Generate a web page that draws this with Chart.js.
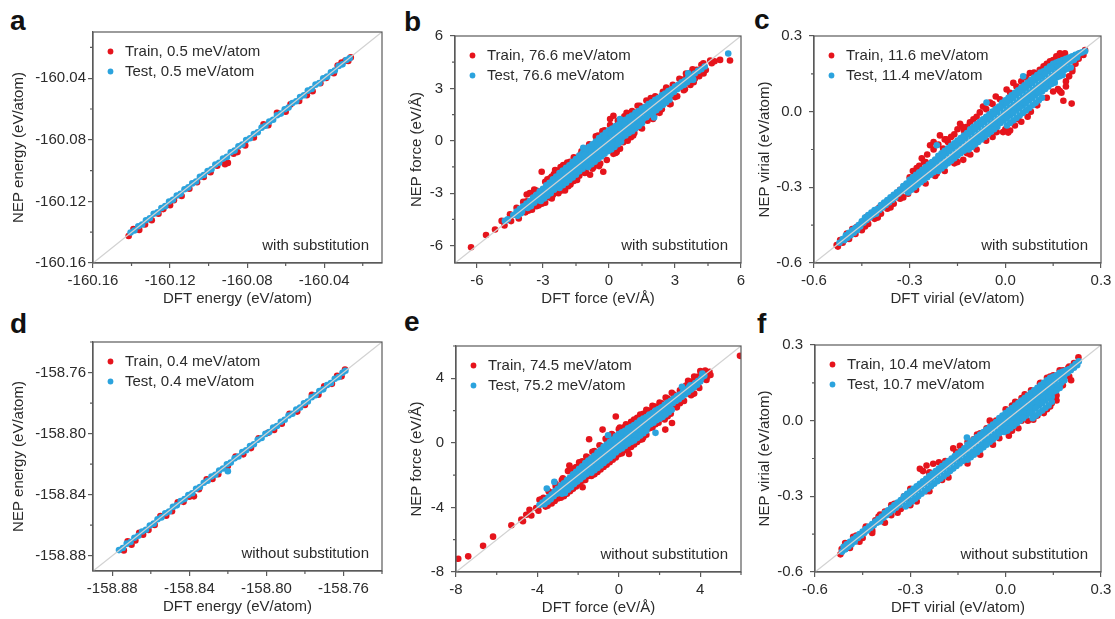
<!DOCTYPE html>
<html>
<head>
<meta charset="utf-8">
<script src="https://cdn.jsdelivr.net/npm/chart.js@4.4.1/dist/chart.umd.min.js"></script>
<style>
  body { margin: 0; background: #fff; width: 1115px; height: 619px; position: relative; overflow: hidden; font-family: "Liberation Sans", Arial, sans-serif; }
  .panel { position: absolute; }
  .tag { position: absolute; font-weight: bold; font-size: 28px; line-height: 28px; color: #111; }
</style>
</head>
<body>
<div class="tag" style="left:10px;top:7px">a</div>
<div class="tag" style="left:404px;top:8px">b</div>
<div class="tag" style="left:754px;top:6px">c</div>
<div class="tag" style="left:10px;top:310px">d</div>
<div class="tag" style="left:404px;top:308px">e</div>
<div class="tag" style="left:757px;top:310px">f</div>

<div class="panel" id="pa"><canvas id="ca"></canvas></div>
<div class="panel" id="pb"><canvas id="cb"></canvas></div>
<div class="panel" id="pc"><canvas id="cc"></canvas></div>
<div class="panel" id="pd"><canvas id="cd"></canvas></div>
<div class="panel" id="pe"><canvas id="ce"></canvas></div>
<div class="panel" id="pf"><canvas id="cf"></canvas></div>

<script>
// ---- tick labels ----
const ticksA = ['-160.16', '-160.12', '-160.08', '-160.04'];
const ticksB = ['-6', '-3', '0', '3', '6'];
const ticksC = ['-0.6', '-0.3', '0.0', '0.3'];
const ticksD = ['-158.88', '-158.84', '-158.80', '-158.76'];
const ticksE = ['-8', '-4', '0', '4'];
const ticksF = ['-0.6', '-0.3', '0.0', '0.3'];

// ---- legend labels ----
const trainLabels = ['Train, 0.5 meV/atom', 'Train, 76.6 meV/atom', 'Train, 11.6 meV/atom',
                     'Train, 0.4 meV/atom', 'Train, 74.5 meV/atom', 'Train, 10.4 meV/atom'];
const testLabels = ['Test, 0.5 meV/atom', 'Test, 76.6 meV/atom', 'Test, 11.4 meV/atom',
                    'Test, 0.4 meV/atom', 'Test, 75.2 meV/atom', 'Test, 10.7 meV/atom'];

// ---- a: energy, with substitution ----
const trainA = [
  [-160.1415,-160.1425],[-160.1390,-160.1380],[-160.1360,-160.1385],[-160.1330,-160.1350],[-160.1295,-160.1322],
  [-160.1260,-160.1280],[-160.1235,-160.1250],[-160.1200,-160.1225],[-160.1180,-160.1192],[-160.1140,-160.1165],
  [-160.1100,-160.1118],[-160.1060,-160.1075],[-160.1025,-160.1042],[-160.0990,-160.1010],[-160.0955,-160.0968],
  [-160.0915,-160.0958],[-160.0900,-160.0950],[-160.0870,-160.0890],[-160.0850,-160.0880],[-160.0810,-160.0837],
  [-160.0765,-160.0785],[-160.0715,-160.0700],[-160.0690,-160.0705],[-160.0645,-160.0625],[-160.0600,-160.0618],
  [-160.0575,-160.0570],[-160.0530,-160.0548],[-160.0490,-160.0510],[-160.0460,-160.0485],[-160.0420,-160.0432],
  [-160.0390,-160.0398],[-160.0350,-160.0368],[-160.0330,-160.0318],[-160.0310,-160.0298],[-160.0290,-160.0285],
  [-160.0275,-160.0288],[-160.0262,-160.0265]
];
const testA = [
  [-160.1405,-160.1402],[-160.1385,-160.1389],[-160.1365,-160.1361],[-160.1345,-160.1350],[-160.1325,-160.1322],
  [-160.1305,-160.1309],[-160.1285,-160.1280],[-160.1265,-160.1270],[-160.1245,-160.1243],[-160.1225,-160.1231],
  [-160.1205,-160.1201],[-160.1185,-160.1190],[-160.1165,-160.1162],[-160.1145,-160.1151],[-160.1125,-160.1121],
  [-160.1105,-160.1109],[-160.1085,-160.1083],[-160.1065,-160.1071],[-160.1045,-160.1041],[-160.1025,-160.1029],
  [-160.1005,-160.1003],[-160.0985,-160.0991],[-160.0965,-160.0961],[-160.0945,-160.0949],[-160.0925,-160.0922],
  [-160.0905,-160.0911],[-160.0885,-160.0881],[-160.0865,-160.0870],[-160.0845,-160.0842],[-160.0825,-160.0831],
  [-160.0805,-160.0801],[-160.0785,-160.0790],[-160.0765,-160.0762],[-160.0745,-160.0751],[-160.0725,-160.0721],
  [-160.0705,-160.0709],[-160.0685,-160.0682],[-160.0665,-160.0670],[-160.0645,-160.0641],[-160.0625,-160.0630],
  [-160.0605,-160.0602],[-160.0585,-160.0591],[-160.0565,-160.0561],[-160.0545,-160.0550],[-160.0525,-160.0522],
  [-160.0505,-160.0511],[-160.0485,-160.0481],[-160.0465,-160.0470],[-160.0445,-160.0442],[-160.0425,-160.0431],
  [-160.0405,-160.0401],[-160.0385,-160.0390],[-160.0365,-160.0362],[-160.0345,-160.0350],[-160.0325,-160.0321],
  [-160.0305,-160.0310],[-160.0285,-160.0282],[-160.0268,-160.0270]
];

// ---- b: force, with substitution ----
const trainB = [
  [-6.27,-6.10],[-5.59,-5.40],[-5.18,-5.08],[-4.88,-4.59],[-4.75,-4.85],[-4.50,-4.21],[-4.45,-4.60],[-4.20,-3.84],
  [-4.10,-4.45],[-3.74,-3.46],[-3.80,-4.10],[-3.74,-3.08],[-3.60,-3.00],[-3.44,-3.46],[-3.50,-3.95],[-3.40,-2.80],
  [-3.30,-3.75],[-3.29,-2.99],[-3.20,-3.70],[-3.06,-1.77],[-2.90,-3.55],[-2.80,-2.20],[-2.70,-3.25],[-2.68,-2.15],
  [-2.60,-3.30],[-2.50,-1.90],[-2.45,-1.67],[-2.30,-3.00],[-2.20,-2.75],[-2.20,-1.50],[-2.08,-1.39],[-2.00,-2.85],
  [-1.77,-1.20],[-1.75,-2.50],[-1.60,-2.30],[-1.32,-0.83],[-1.35,-2.00],[-1.01,-0.45],[-1.05,-1.80],[-0.86,-1.95],
  [-0.60,0.25],[-0.70,-1.50],[-0.26,-1.77],[-0.30,0.55],[-0.40,-1.30],[0.05,1.24],[0.05,0.90],[0.20,1.43],
  [0.35,-0.64],[0.30,-0.70],[0.65,-0.08],[0.80,1.05],[0.80,1.60],[1.10,0.30],[1.00,0.20],[1.26,1.62],
  [1.30,2.00],[1.50,0.70],[1.86,2.18],[1.90,2.45],[2.01,1.43],[2.00,1.25],[2.32,1.80],[2.32,2.37],
  [2.30,1.60],[2.47,2.37],[2.62,2.75],[2.60,3.05],[2.77,2.93],[2.80,2.10],[3.08,3.12],[3.00,2.50],
  [3.23,3.12],[3.20,3.55],[3.38,3.50],[3.40,2.90],[3.53,3.69],[3.68,3.88],[3.70,3.20],[3.98,4.06],
  [3.90,3.55],[4.10,3.70],[4.20,4.35],[4.29,4.44],[4.40,4.05],[4.67,4.44],[4.60,4.60],[4.80,4.55],
  [5.05,4.63],[5.50,4.60],
  [-3.90,-3.50],[-3.30,-2.85],[-2.90,-2.35],[-2.60,-2.05],[-2.30,-1.70],[-1.90,-1.25],[-1.60,-0.95],[-1.25,-0.60],
  [-0.90,-0.20],[-0.50,0.30],[-0.20,0.60],[0.10,0.80],[0.40,1.15],[0.70,1.40],[1.05,1.70],[1.40,2.00],
  [1.70,2.30],[2.10,2.55],[2.45,2.80],[2.90,3.20],[3.50,3.85],[3.80,4.10],
  [-3.65,-4.00],[-3.05,-3.60],[-2.55,-3.10],[-2.15,-2.85],[-1.85,-2.60],[-1.45,-2.25],[-1.10,-1.85],[-0.75,-1.60],
  [-0.45,-1.45],[-0.10,-1.10],[0.20,-0.75],[0.50,-0.45],[0.85,0.00],[1.15,0.45],[1.45,0.75],[1.75,1.15],
  [2.05,1.45],[2.40,1.80],[2.75,2.10],[3.10,2.55],[3.45,2.95],[3.85,3.35],[4.30,3.85]
];
const testB = [
  [-4.60,-4.50],[-4.73,-4.59],[-4.20,-4.05],[-4.15,-4.30],[-3.90,-3.75],[-3.95,-4.05],[-3.60,-3.45],[-3.55,-3.75],
  [-3.30,-3.10],[-3.25,-3.40],[-3.00,-2.75],[-3.05,-3.05],[-2.95,-3.30],[-2.70,-2.40],[-2.75,-2.70],[-2.65,-3.00],
  [-2.40,-2.05],[-2.45,-2.35],[-2.35,-2.65],[-2.10,-1.70],[-2.15,-2.00],[-2.05,-2.30],[-2.10,-2.55],
  [-1.80,-1.40],[-1.85,-1.70],[-1.75,-2.00],[-1.80,-2.25],[-1.50,-1.05],[-1.55,-1.35],[-1.45,-1.65],[-1.50,-1.95],
  [-1.20,-0.70],[-1.25,-1.00],[-1.15,-1.30],[-1.20,-1.60],[-1.17,-0.40],
  [-0.90,-0.35],[-0.95,-0.65],[-0.85,-0.95],[-0.90,-1.25],[-0.95,-1.50],
  [-0.60,-0.05],[-0.65,-0.35],[-0.55,-0.65],[-0.60,-0.95],[-0.65,-1.20],
  [-0.30,0.30],[-0.35,0.00],[-0.25,-0.30],[-0.30,-0.60],[-0.35,-0.90],
  [0.00,0.60],[-0.05,0.30],[0.05,0.00],[0.00,-0.30],[-0.05,-0.60],
  [0.30,0.85],[0.25,0.55],[0.35,0.25],[0.30,-0.05],[0.25,-0.35],
  [0.60,1.10],[0.55,0.80],[0.65,0.50],[0.60,0.20],[0.55,-0.05],[0.50,1.24],
  [0.90,1.35],[0.85,1.05],[0.95,0.75],[0.90,0.45],[1.20,1.60],[1.15,1.30],[1.25,1.00],[1.20,0.70],
  [1.50,1.85],[1.45,1.55],[1.55,1.25],[1.50,1.00],[1.80,2.10],[1.75,1.80],[1.85,1.50],
  [2.10,2.35],[2.05,2.05],[2.15,1.75],[2.09,2.00],[2.05,1.33],[2.40,2.60],[2.35,2.30],[2.45,2.05],
  [2.70,2.85],[2.65,2.55],[2.75,2.35],[3.00,3.10],[2.95,2.80],[3.30,3.35],[3.25,3.10],
  [3.60,3.60],[3.55,3.35],[3.60,3.87],[3.83,3.50],[3.90,3.85],[4.20,4.10],[5.42,5.00],
  [-4.35,-4.25],[-4.05,-3.90],[-4.00,-4.15],[-3.75,-3.60],[-3.70,-3.85],[-3.45,-3.25],[-3.40,-3.55],
  [-3.15,-2.90],[-3.20,-3.20],[-3.10,-3.45],[-2.85,-2.55],[-2.90,-2.85],[-2.80,-3.15],
  [-2.55,-2.20],[-2.60,-2.50],[-2.50,-2.80],[-2.25,-1.85],[-2.30,-2.15],[-2.20,-2.45],[-2.25,-2.70],
  [-1.95,-1.55],[-2.00,-1.85],[-1.90,-2.15],[-1.95,-2.40],[-1.65,-1.20],[-1.70,-1.50],[-1.60,-1.80],[-1.65,-2.10],
  [-1.35,-0.85],[-1.40,-1.15],[-1.30,-1.45],[-1.35,-1.75],[-1.05,-0.50],[-1.10,-0.80],[-1.00,-1.10],[-1.05,-1.40],
  [-0.75,-0.20],[-0.80,-0.50],[-0.70,-0.80],[-0.75,-1.10],[-0.80,-1.35],
  [-0.45,0.15],[-0.50,-0.20],[-0.40,-0.50],[-0.45,-0.80],[-0.50,-1.05],
  [-0.15,0.45],[-0.20,0.15],[-0.10,-0.15],[-0.15,-0.45],[-0.20,-0.75],
  [0.15,0.70],[0.10,0.40],[0.20,0.10],[0.15,-0.20],[0.10,-0.50],
  [0.45,0.95],[0.40,0.65],[0.50,0.35],[0.45,0.05],[0.40,-0.20],
  [0.75,1.20],[0.70,0.90],[0.80,0.60],[0.75,0.30],[1.05,1.45],[1.00,1.15],[1.10,0.85],[1.05,0.55],
  [1.35,1.70],[1.30,1.40],[1.40,1.10],[1.35,0.85],[1.65,1.95],[1.60,1.65],[1.70,1.35],
  [1.95,2.20],[1.90,1.90],[2.00,1.60],[2.25,2.45],[2.20,2.15],[2.30,1.90],[2.55,2.70],[2.50,2.45],[2.60,2.20],
  [2.85,2.95],[2.80,2.65],[3.15,3.20],[3.10,2.95],[3.45,3.45],[3.40,3.20],[3.75,3.70],[3.70,3.50],
  [4.05,4.00],[4.35,4.25]
];

// ---- c: virial, with substitution ----
const trainC = [
  [-0.529,-0.529],[-0.518,-0.509],[-0.525,-0.535],[-0.510,-0.520],[-0.497,-0.483],[-0.490,-0.505],[-0.480,-0.465],
  [-0.466,-0.457],[-0.470,-0.485],[-0.450,-0.440],[-0.450,-0.465],[-0.440,-0.455],[-0.435,-0.418],[-0.430,-0.445],
  [-0.414,-0.405],[-0.410,-0.425],[-0.395,-0.380],[-0.390,-0.405],[-0.370,-0.355],[-0.370,-0.385],[-0.350,-0.335],
  [-0.350,-0.365],[-0.330,-0.310],[-0.330,-0.345],[-0.310,-0.290],[-0.305,-0.325],[-0.280,-0.260],
  [-0.278,-0.224],[-0.262,-0.185],[-0.270,-0.250],[-0.236,-0.133],[-0.250,-0.200],[-0.205,-0.094],[-0.195,-0.146],
  [-0.215,-0.245],[-0.180,-0.120],[-0.190,-0.110],[-0.160,-0.090],[-0.142,-0.048],[-0.130,-0.075],[-0.120,-0.060],
  [-0.111,-0.042],[-0.090,-0.020],[-0.080,-0.003],[-0.070,0.020],[-0.048,0.036],[-0.030,0.060],[-0.017,0.049],
  [0.004,0.088],[0.025,0.114],[0.050,0.120],[0.077,0.153],[0.108,0.166],[0.130,0.190],[0.150,0.205],
  [0.171,0.231],[0.175,0.215],[0.187,0.231],[0.197,0.211],
  [-0.132,-0.191],[-0.150,-0.200],[-0.110,-0.170],[0.030,-0.055],[0.015,-0.075],[-0.027,-0.081],[-0.007,-0.081],
  [0.009,-0.083],[0.050,-0.040],[0.070,-0.020],[0.176,0.075],[0.182,0.043],[0.208,0.032],[0.171,0.082],
  [0.165,0.090],[0.190,0.100],[0.200,0.140],[0.210,0.170],[0.220,0.190],[0.230,0.210],[0.234,0.231],
  [0.245,0.225],[0.250,0.244],
  [-0.300,-0.260],[-0.290,-0.235],[-0.270,-0.215],[-0.255,-0.200],[-0.245,-0.170],[-0.225,-0.150],[-0.210,-0.130],
  [-0.225,-0.120],[-0.185,-0.110],[-0.170,-0.100],[-0.150,-0.070],[-0.135,-0.060],[-0.100,-0.030],[-0.060,0.010],
  [-0.040,0.030],[0.015,0.075],[0.035,0.100],[0.065,0.135],[0.090,0.155],[0.120,0.180],[0.140,0.200],[0.160,0.220],
  [-0.450,-0.470],[-0.400,-0.420],[-0.360,-0.380],[-0.320,-0.340],[-0.280,-0.310],[-0.250,-0.285],[-0.220,-0.255],
  [-0.190,-0.235],[-0.160,-0.205],[-0.120,-0.165],[-0.090,-0.150],[-0.060,-0.115],[-0.040,-0.100],[0.000,-0.070],
  [0.040,-0.030],[0.080,0.000],[0.100,0.025],[0.130,0.055],[0.150,0.080],[0.190,0.120],[0.210,0.160]
];
const testC = [
  [-0.520,-0.520],[-0.500,-0.490],[-0.505,-0.510],[-0.480,-0.470],[-0.485,-0.490],[-0.460,-0.450],[-0.465,-0.470],
  [-0.440,-0.420],[-0.445,-0.440],[-0.420,-0.400],[-0.425,-0.420],[-0.400,-0.385],[-0.405,-0.405],[-0.380,-0.360],
  [-0.385,-0.380],[-0.360,-0.340],[-0.365,-0.360],[-0.340,-0.320],[-0.345,-0.340],[-0.320,-0.295],[-0.325,-0.315],
  [-0.300,-0.270],[-0.305,-0.290],[-0.295,-0.310],[-0.280,-0.250],[-0.285,-0.270],[-0.275,-0.290],
  [-0.260,-0.230],[-0.265,-0.250],[-0.255,-0.270],[-0.240,-0.210],[-0.245,-0.230],[-0.235,-0.250],
  [-0.220,-0.190],[-0.225,-0.210],[-0.215,-0.230],[-0.215,-0.133],
  [-0.200,-0.165],[-0.205,-0.185],[-0.195,-0.205],[-0.200,-0.225],[-0.180,-0.145],[-0.185,-0.165],[-0.175,-0.185],[-0.180,-0.205],
  [-0.160,-0.125],[-0.165,-0.145],[-0.155,-0.165],[-0.160,-0.185],[-0.140,-0.105],[-0.145,-0.125],[-0.135,-0.145],[-0.140,-0.165],
  [-0.120,-0.085],[-0.125,-0.105],[-0.115,-0.125],[-0.120,-0.145],
  [-0.100,-0.060],[-0.105,-0.080],[-0.095,-0.100],[-0.100,-0.120],[-0.105,-0.140],
  [-0.080,-0.040],[-0.085,-0.060],[-0.075,-0.080],[-0.080,-0.100],[-0.085,-0.120],
  [-0.060,-0.020],[-0.065,-0.040],[-0.055,-0.060],[-0.060,-0.080],[-0.065,-0.100],[-0.059,0.036],
  [-0.040,0.000],[-0.045,-0.020],[-0.035,-0.040],[-0.040,-0.060],[-0.045,-0.080],
  [-0.020,0.020],[-0.025,0.000],[-0.015,-0.020],[-0.020,-0.040],[-0.025,-0.060],
  [0.000,0.045],[-0.005,0.025],[0.005,0.005],[0.000,-0.015],[-0.005,-0.035],[0.005,-0.055],
  [0.020,0.065],[0.015,0.045],[0.025,0.025],[0.020,0.005],[0.015,-0.015],[0.025,-0.035],
  [0.040,0.085],[0.035,0.065],[0.045,0.045],[0.040,0.025],[0.035,0.005],[0.045,-0.015],
  [0.060,0.105],[0.055,0.085],[0.065,0.065],[0.060,0.045],[0.055,0.025],[0.065,0.005],[0.056,0.140],
  [0.080,0.125],[0.075,0.105],[0.085,0.085],[0.080,0.065],[0.075,0.045],[0.085,0.025],
  [0.100,0.145],[0.095,0.125],[0.105,0.105],[0.100,0.085],[0.095,0.065],[0.105,0.045],
  [0.120,0.160],[0.115,0.140],[0.125,0.120],[0.120,0.100],[0.115,0.080],
  [0.140,0.180],[0.135,0.160],[0.145,0.140],[0.140,0.120],[0.135,0.100],
  [0.160,0.195],[0.155,0.175],[0.165,0.155],[0.160,0.135],[0.155,0.115],
  [0.180,0.205],[0.175,0.185],[0.185,0.165],[0.180,0.145],[0.200,0.215],[0.195,0.195],[0.205,0.175],
  [0.220,0.225],[0.215,0.205],[0.240,0.235],[0.250,0.240],
  [-0.510,-0.505],[-0.490,-0.480],[-0.495,-0.500],[-0.470,-0.460],[-0.475,-0.480],[-0.450,-0.435],[-0.455,-0.455],
  [-0.430,-0.410],[-0.435,-0.430],[-0.410,-0.390],[-0.415,-0.410],[-0.390,-0.370],[-0.395,-0.390],[-0.370,-0.350],
  [-0.375,-0.370],[-0.350,-0.330],[-0.355,-0.350],[-0.330,-0.310],[-0.335,-0.325],
  [-0.310,-0.285],[-0.315,-0.300],[-0.305,-0.320],[-0.290,-0.260],[-0.295,-0.280],[-0.285,-0.300],
  [-0.270,-0.240],[-0.275,-0.260],[-0.265,-0.280],[-0.250,-0.220],[-0.255,-0.240],[-0.245,-0.260],
  [-0.230,-0.200],[-0.235,-0.220],[-0.225,-0.240],
  [-0.210,-0.175],[-0.215,-0.195],[-0.205,-0.215],[-0.210,-0.235],[-0.190,-0.155],[-0.195,-0.175],[-0.185,-0.195],[-0.190,-0.215],
  [-0.170,-0.135],[-0.175,-0.155],[-0.165,-0.175],[-0.170,-0.195],[-0.150,-0.115],[-0.155,-0.135],[-0.145,-0.155],[-0.150,-0.175],
  [-0.130,-0.095],[-0.135,-0.115],[-0.125,-0.135],[-0.130,-0.155],
  [-0.110,-0.070],[-0.115,-0.090],[-0.105,-0.110],[-0.110,-0.130],[-0.115,-0.150],
  [-0.090,-0.050],[-0.095,-0.070],[-0.085,-0.090],[-0.090,-0.110],[-0.095,-0.130],
  [-0.070,-0.030],[-0.075,-0.050],[-0.065,-0.070],[-0.070,-0.090],[-0.075,-0.110],
  [-0.050,-0.010],[-0.055,-0.030],[-0.045,-0.050],[-0.050,-0.070],[-0.055,-0.090],
  [-0.030,0.010],[-0.035,-0.010],[-0.025,-0.030],[-0.030,-0.050],[-0.035,-0.070],
  [-0.010,0.035],[-0.015,0.015],[-0.005,-0.005],[-0.010,-0.025],[-0.015,-0.045],
  [0.010,0.055],[0.005,0.035],[0.015,0.015],[0.010,-0.005],[0.005,-0.025],[0.015,-0.045],
  [0.030,0.075],[0.025,0.055],[0.035,0.035],[0.030,0.015],[0.025,-0.005],[0.035,-0.025],
  [0.050,0.095],[0.045,0.075],[0.055,0.055],[0.050,0.035],[0.045,0.015],[0.055,-0.005],
  [0.070,0.115],[0.065,0.095],[0.075,0.075],[0.070,0.055],[0.065,0.035],[0.075,0.015],
  [0.090,0.135],[0.085,0.115],[0.095,0.095],[0.090,0.075],[0.085,0.055],[0.095,0.035],
  [0.110,0.155],[0.105,0.135],[0.115,0.115],[0.110,0.095],[0.105,0.075],[0.115,0.055],
  [0.130,0.170],[0.125,0.150],[0.135,0.130],[0.130,0.110],[0.125,0.090],
  [0.150,0.190],[0.145,0.170],[0.155,0.150],[0.150,0.130],[0.145,0.110],
  [0.170,0.200],[0.165,0.180],[0.175,0.160],[0.170,0.140],[0.190,0.210],[0.185,0.190],[0.195,0.170],
  [0.210,0.220],[0.205,0.200],[0.230,0.230],[0.225,0.215]
];

// ---- d: energy, without substitution ----
const trainD = [
  [-158.8740,-158.8765],[-158.8720,-158.8705],[-158.8700,-158.8728],[-158.8680,-158.8700],[-158.8660,-158.8650],
  [-158.8640,-158.8662],[-158.8612,-158.8631],[-158.8580,-158.8598],[-158.8550,-158.8540],[-158.8520,-158.8538],
  [-158.8490,-158.8508],[-158.8460,-158.8450],[-158.8430,-158.8447],[-158.8400,-158.8414],[-158.8376,-158.8411],
  [-158.8350,-158.8365],[-158.8310,-158.8300],[-158.8280,-158.8297],[-158.8250,-158.8266],[-158.8200,-158.8212],
  [-158.8160,-158.8150],[-158.8120,-158.8136],[-158.8080,-158.8095],[-158.8040,-158.8030],[-158.7991,-158.7994],
  [-158.7960,-158.7976],[-158.7920,-158.7935],[-158.7880,-158.7870],[-158.7840,-158.7856],[-158.7800,-158.7812],
  [-158.7764,-158.7746],[-158.7730,-158.7745],[-158.7700,-158.7690],[-158.7660,-158.7674],[-158.7633,-158.7622],
  [-158.7610,-158.7625],[-158.7592,-158.7580]
];
const testD = [
  [-158.8765,-158.8763],[-158.8745,-158.8749],[-158.8725,-158.8721],[-158.8705,-158.8710],[-158.8685,-158.8682],
  [-158.8665,-158.8669],[-158.8645,-158.8641],[-158.8625,-158.8630],[-158.8605,-158.8602],[-158.8585,-158.8590],
  [-158.8565,-158.8561],[-158.8545,-158.8549],[-158.8525,-158.8522],[-158.8505,-158.8511],[-158.8485,-158.8480],
  [-158.8465,-158.8470],[-158.8445,-158.8441],[-158.8425,-158.8429],[-158.8405,-158.8402],[-158.8385,-158.8391],
  [-158.8365,-158.8361],[-158.8345,-158.8350],[-158.8325,-158.8322],[-158.8305,-158.8309],[-158.8285,-158.8281],
  [-158.8265,-158.8270],[-158.8245,-158.8242],[-158.8225,-158.8229],[-158.8205,-158.8201],[-158.8200,-158.8247],
  [-158.8185,-158.8190],[-158.8165,-158.8162],[-158.8145,-158.8150],[-158.8125,-158.8121],[-158.8105,-158.8109],
  [-158.8085,-158.8082],[-158.8065,-158.8070],[-158.8045,-158.8041],[-158.8025,-158.8029],[-158.8005,-158.8002],
  [-158.7985,-158.7990],[-158.7965,-158.7961],[-158.7945,-158.7950],[-158.7925,-158.7922],[-158.7905,-158.7909],
  [-158.7885,-158.7881],[-158.7865,-158.7870],[-158.7845,-158.7842],[-158.7825,-158.7829],[-158.7805,-158.7801],
  [-158.7785,-158.7790],[-158.7765,-158.7762],[-158.7745,-158.7749],[-158.7725,-158.7721],[-158.7705,-158.7710],
  [-158.7685,-158.7682],[-158.7665,-158.7669],[-158.7645,-158.7641],[-158.7625,-158.7630],[-158.7605,-158.7602],
  [-158.7590,-158.7588]
];

// ---- e: force, without substitution ----
const trainE = [
  [-7.89,-7.18],[-7.40,-7.03],[-6.67,-6.38],[-6.18,-5.81],[-5.28,-5.10],[-4.79,-4.75],[-4.71,-4.85],[-4.55,-4.45],
  [-4.39,-4.14],[-4.30,-4.50],[-4.06,-4.04],[-3.90,-3.53],[-3.95,-4.20],[-3.70,-3.40],[-3.60,-3.95],[-3.40,-3.05],
  [-3.30,-3.75],[-3.10,-2.70],[-3.00,-3.45],[-2.80,-2.30],[-2.70,-3.30],[-2.43,-1.40],[-2.50,-1.75],[-2.30,-1.60],
  [-2.40,-3.00],[-2.10,-1.50],[-2.10,-2.70],[-1.78,-2.75],[-1.80,-1.15],[-1.80,-2.35],[-1.54,-0.90],[-1.46,0.22],
  [-1.50,-2.05],[-1.20,-0.50],[-1.05,-0.69],[-1.20,-1.95],[-0.90,-0.20],[-0.80,0.82],[-0.90,-1.65],[-0.60,0.20],
  [-0.60,-1.35],[-0.30,0.50],[-0.15,1.63],[-0.30,-1.05],[0.00,0.85],[0.00,-0.70],[0.30,1.00],[0.50,-0.69],
  [0.30,-0.45],[0.60,1.30],[0.60,-0.25],[0.90,1.55],[0.90,0.05],[1.15,0.22],[1.20,1.80],[1.20,0.35],
  [1.50,2.00],[1.50,0.90],[1.80,2.25],[1.80,1.15],[2.12,1.74],[2.10,2.45],[2.28,0.82],[2.40,2.75],
  [2.40,1.65],[2.61,1.23],[2.70,3.00],[2.70,2.20],[2.94,2.45],[3.00,3.25],[3.00,2.45],[3.30,3.55],
  [3.43,3.06],[3.60,3.80],[3.70,3.05],[3.91,3.47],[3.90,4.10],[4.08,3.97],[4.24,4.48],[4.40,4.17],
  [4.45,4.40],[4.30,4.00],[5.95,5.39],
  [-3.80,-3.50],[-3.45,-3.00],[-3.10,-2.55],[-2.75,-2.20],[-2.20,-1.60],[-1.95,-1.20],[-1.60,-0.85],[-1.30,-0.55],
  [-0.95,-0.15],[-0.65,0.25],[-0.35,0.55],[0.05,0.95],[0.35,1.15],[0.75,1.45],[1.05,1.75],[1.35,2.05],
  [1.65,2.30],[2.00,2.50],[2.30,2.80],[2.60,3.10],[3.40,3.85],[3.70,4.10],[4.00,4.45],
  [-3.50,-3.90],[-3.15,-3.60],[-2.85,-3.40],[-2.55,-3.15],[-2.25,-2.85],[-1.95,-2.55],[-1.65,-2.30],[-1.35,-2.05],
  [-1.05,-1.80],[-0.75,-1.50],[-0.45,-1.20],[-0.15,-0.90],[0.15,-0.65],[0.45,-0.35],[0.75,-0.10],[1.05,0.20],
  [1.35,0.50],[1.65,0.95],[1.95,1.25],[2.25,1.45],[2.55,1.80],[2.85,2.20],[3.20,2.60],[3.55,2.95],
  [3.95,3.40],[4.30,3.90],[4.50,4.20]
];
const testE = [
  [-3.90,-3.85],[-3.60,-3.55],[-3.65,-3.80],[-3.54,-2.83],[-3.30,-3.20],[-3.35,-3.50],[-3.17,-2.42],
  [-3.00,-2.85],[-3.05,-3.15],[-2.70,-2.50],[-2.75,-2.80],[-2.65,-3.10],[-2.40,-2.15],[-2.45,-2.45],[-2.35,-2.75],
  [-2.10,-1.80],[-2.15,-2.10],[-2.05,-2.40],[-1.80,-1.45],[-1.85,-1.80],[-1.75,-2.10],
  [-1.50,-1.10],[-1.55,-1.45],[-1.45,-1.80],[-1.20,-0.80],[-1.25,-1.10],[-1.15,-1.45],[-1.20,-1.70],
  [-0.90,-0.45],[-0.95,-0.80],[-0.85,-1.10],[-0.90,-1.40],[-0.60,-0.10],[-0.65,-0.45],[-0.55,-0.80],[-0.60,-1.10],
  [-0.53,0.47],[-0.30,0.20],[-0.35,-0.10],[-0.25,-0.45],[-0.30,-0.80],[0.00,0.55],[-0.05,0.20],[0.05,-0.10],[0.00,-0.45],
  [0.30,0.75],[0.25,0.45],[0.35,0.15],[0.30,-0.20],[0.60,1.00],[0.55,0.70],[0.65,0.40],[0.60,0.05],
  [0.90,1.25],[0.85,0.95],[0.95,0.60],[0.90,0.30],[1.20,1.50],[1.15,1.20],[1.25,0.90],[1.20,0.60],
  [1.50,1.75],[1.45,1.45],[1.55,1.15],[1.80,2.00],[1.75,1.70],[1.85,1.40],[1.80,0.62],
  [2.10,2.20],[2.05,1.90],[2.15,1.60],[2.40,2.50],[2.35,2.20],[2.45,1.90],[2.70,2.75],[2.65,2.45],
  [3.00,3.00],[2.95,2.70],[3.10,3.47],[3.30,3.30],[3.25,3.00],[3.51,3.56],[3.60,3.55],[3.55,3.30],
  [3.90,3.85],[3.85,3.60],[4.20,4.15],[4.10,4.30],
  [-3.75,-3.70],[-3.45,-3.35],[-3.50,-3.65],[-3.15,-3.00],[-3.20,-3.30],
  [-2.85,-2.65],[-2.90,-2.95],[-2.80,-3.15],[-2.55,-2.30],[-2.60,-2.60],[-2.50,-2.90],
  [-2.25,-1.95],[-2.30,-2.25],[-2.20,-2.55],[-1.95,-1.60],[-2.00,-1.95],[-1.90,-2.25],
  [-1.65,-1.25],[-1.70,-1.60],[-1.60,-1.95],[-1.35,-0.95],[-1.40,-1.25],[-1.30,-1.60],[-1.35,-1.85],
  [-1.05,-0.60],[-1.10,-0.95],[-1.00,-1.25],[-1.05,-1.55],[-0.75,-0.25],[-0.80,-0.60],[-0.70,-0.95],[-0.75,-1.25],
  [-0.45,0.05],[-0.50,-0.30],[-0.40,-0.60],[-0.45,-0.95],[-0.15,0.40],[-0.20,0.05],[-0.10,-0.30],[-0.15,-0.60],
  [0.15,0.65],[0.10,0.30],[0.20,0.00],[0.15,-0.35],[0.45,0.90],[0.40,0.60],[0.50,0.25],[0.45,-0.05],
  [0.75,1.10],[0.70,0.80],[0.80,0.50],[0.75,0.15],[1.05,1.40],[1.00,1.10],[1.10,0.75],[1.05,0.45],
  [1.35,1.60],[1.30,1.30],[1.40,1.00],[1.35,0.75],[1.65,1.85],[1.60,1.55],[1.70,1.25],
  [1.95,2.10],[1.90,1.80],[2.00,1.50],[2.25,2.35],[2.20,2.05],[2.30,1.75],[2.55,2.60],[2.50,2.30],[2.60,2.05],
  [2.85,2.90],[2.80,2.60],[3.15,3.15],[3.10,2.85],[3.45,3.45],[3.40,3.15],[3.75,3.70],[3.70,3.45],
  [4.05,4.00],[4.00,3.80]
];

// ---- f: virial, without substitution ----
const trainF = [
  [-0.516,-0.509],[-0.520,-0.530],[-0.500,-0.503],[-0.505,-0.485],[-0.490,-0.505],[-0.469,-0.477],[-0.470,-0.455],
  [-0.450,-0.465],[-0.440,-0.425],[-0.420,-0.435],[-0.410,-0.395],[-0.395,-0.372],[-0.385,-0.399],[-0.380,-0.360],
  [-0.360,-0.375],[-0.350,-0.330],[-0.330,-0.350],[-0.320,-0.300],[-0.300,-0.320],[-0.300,-0.335],[-0.250,-0.280],
  [-0.270,-0.191],[-0.249,-0.178],[-0.228,-0.171],[-0.260,-0.200],[-0.240,-0.210],[-0.210,-0.165],[-0.190,-0.160],
  [-0.200,-0.235],[-0.165,-0.110],[-0.144,-0.100],[-0.155,-0.125],[-0.144,-0.163],[-0.100,-0.130],[-0.101,-0.074],
  [-0.080,-0.050],[-0.050,0.000],[-0.020,-0.070],[0.000,0.045],[0.020,-0.040],[0.030,0.075],[0.050,0.000],
  [0.060,0.105],[0.077,0.030],[0.087,0.004],[0.108,0.148],[0.120,0.030],[0.130,0.170],[0.140,0.056],
  [0.145,0.069],[0.150,0.180],[0.160,0.080],[0.181,0.200],[0.197,0.210],[0.206,0.160],[0.215,0.228],[0.229,0.251],
  [-0.480,-0.460],[-0.440,-0.420],[-0.400,-0.380],[-0.360,-0.335],[-0.300,-0.270],[-0.240,-0.205],[-0.200,-0.175],
  [-0.140,-0.110],[-0.120,-0.085],[-0.090,-0.055],[-0.060,-0.030],[-0.030,0.000],[0.020,0.060],[0.050,0.090],
  [0.080,0.120],[0.110,0.150],[0.140,0.175],[0.170,0.200],[0.200,0.215],
  [-0.460,-0.480],[-0.420,-0.445],[-0.380,-0.405],[-0.340,-0.365],[-0.280,-0.320],[-0.240,-0.280],[-0.180,-0.225],
  [-0.120,-0.170],[-0.080,-0.135],[-0.040,-0.095],[0.010,-0.060],[0.040,-0.030],[0.070,0.000],[0.100,0.020],
  [0.130,0.045],[0.160,0.100],[0.180,0.140],[0.200,0.175]
];
const testF = [
  [-0.510,-0.500],[-0.515,-0.520],[-0.505,-0.510],[-0.490,-0.480],[-0.495,-0.500],[-0.470,-0.460],[-0.475,-0.480],
  [-0.450,-0.440],[-0.455,-0.455],[-0.430,-0.420],[-0.435,-0.435],[-0.410,-0.400],[-0.415,-0.415],
  [-0.390,-0.380],[-0.395,-0.400],[-0.370,-0.355],[-0.375,-0.375],[-0.350,-0.335],[-0.355,-0.355],
  [-0.330,-0.315],[-0.335,-0.335],[-0.310,-0.290],[-0.315,-0.310],[-0.305,-0.330],
  [-0.290,-0.270],[-0.295,-0.290],[-0.285,-0.310],[-0.270,-0.250],[-0.275,-0.270],[-0.265,-0.290],
  [-0.250,-0.230],[-0.255,-0.250],[-0.245,-0.270],[-0.230,-0.210],[-0.235,-0.230],[-0.225,-0.250],
  [-0.210,-0.190],[-0.215,-0.210],[-0.205,-0.230],[-0.190,-0.170],[-0.195,-0.190],[-0.185,-0.210],
  [-0.170,-0.150],[-0.175,-0.170],[-0.165,-0.190],[-0.150,-0.130],[-0.155,-0.150],[-0.145,-0.170],
  [-0.130,-0.110],[-0.135,-0.130],[-0.125,-0.150],[-0.122,-0.067],
  [-0.110,-0.085],[-0.115,-0.105],[-0.105,-0.125],[-0.110,-0.145],[-0.090,-0.065],[-0.095,-0.085],[-0.085,-0.105],[-0.090,-0.125],
  [-0.070,-0.045],[-0.075,-0.065],[-0.065,-0.085],[-0.070,-0.105],[-0.050,-0.025],[-0.055,-0.045],[-0.045,-0.065],[-0.050,-0.085],
  [-0.030,-0.005],[-0.035,-0.025],[-0.025,-0.045],[-0.030,-0.065],[-0.010,0.020],[-0.015,0.000],[-0.005,-0.020],[-0.010,-0.040],
  [0.010,0.040],[0.005,0.020],[0.015,0.000],[0.010,-0.020],[0.005,-0.040],
  [0.030,0.060],[0.025,0.040],[0.035,0.020],[0.030,0.000],[0.025,-0.020],
  [0.050,0.080],[0.045,0.060],[0.055,0.040],[0.050,0.020],[0.045,0.000],
  [0.070,0.100],[0.065,0.080],[0.075,0.060],[0.070,0.040],[0.065,0.020],[0.087,0.017],
  [0.090,0.120],[0.085,0.100],[0.095,0.080],[0.090,0.060],[0.085,0.040],[0.095,0.020],
  [0.110,0.140],[0.105,0.120],[0.115,0.100],[0.110,0.080],[0.105,0.060],[0.115,0.040],
  [0.130,0.160],[0.125,0.140],[0.135,0.120],[0.130,0.100],[0.125,0.080],[0.135,0.060],
  [0.150,0.175],[0.145,0.155],[0.155,0.135],[0.150,0.115],[0.145,0.095],
  [0.170,0.190],[0.165,0.170],[0.175,0.150],[0.170,0.130],[0.190,0.200],[0.185,0.180],
  [0.210,0.215],[0.205,0.200],[0.230,0.235],[0.225,0.220],
  [-0.500,-0.490],[-0.505,-0.510],[-0.480,-0.470],[-0.485,-0.490],[-0.460,-0.450],[-0.465,-0.465],
  [-0.440,-0.430],[-0.445,-0.445],[-0.420,-0.410],[-0.425,-0.425],[-0.400,-0.390],[-0.405,-0.405],
  [-0.380,-0.365],[-0.385,-0.385],[-0.360,-0.345],[-0.365,-0.365],[-0.340,-0.325],[-0.345,-0.345],
  [-0.320,-0.300],[-0.325,-0.320],[-0.315,-0.340],[-0.300,-0.280],[-0.305,-0.300],[-0.295,-0.320],
  [-0.280,-0.260],[-0.285,-0.280],[-0.275,-0.300],[-0.260,-0.240],[-0.265,-0.260],[-0.255,-0.280],
  [-0.240,-0.220],[-0.245,-0.240],[-0.235,-0.260],[-0.220,-0.200],[-0.225,-0.220],[-0.215,-0.240],
  [-0.200,-0.180],[-0.205,-0.200],[-0.195,-0.220],[-0.180,-0.160],[-0.185,-0.180],[-0.175,-0.200],
  [-0.160,-0.140],[-0.165,-0.160],[-0.155,-0.180],[-0.140,-0.120],[-0.145,-0.140],[-0.135,-0.160],
  [-0.120,-0.095],[-0.125,-0.115],[-0.115,-0.135],[-0.120,-0.155],[-0.100,-0.075],[-0.105,-0.095],[-0.095,-0.115],[-0.100,-0.135],
  [-0.080,-0.055],[-0.085,-0.075],[-0.075,-0.095],[-0.080,-0.115],[-0.060,-0.035],[-0.065,-0.055],[-0.055,-0.075],[-0.060,-0.095],
  [-0.040,-0.015],[-0.045,-0.035],[-0.035,-0.055],[-0.040,-0.075],[-0.020,0.010],[-0.025,-0.010],[-0.015,-0.030],[-0.020,-0.050],
  [0.000,0.030],[-0.005,0.010],[0.005,-0.010],[0.000,-0.030],[-0.005,-0.045],
  [0.020,0.050],[0.015,0.030],[0.025,0.010],[0.020,-0.010],[0.015,-0.030],
  [0.040,0.070],[0.035,0.050],[0.045,0.030],[0.040,0.010],[0.035,-0.010],
  [0.060,0.090],[0.055,0.070],[0.065,0.050],[0.060,0.030],[0.055,0.010],
  [0.080,0.110],[0.075,0.090],[0.085,0.070],[0.080,0.050],[0.075,0.030],[0.085,0.010],
  [0.100,0.130],[0.095,0.110],[0.105,0.090],[0.100,0.070],[0.095,0.050],[0.105,0.030],
  [0.120,0.150],[0.115,0.130],[0.125,0.110],[0.120,0.090],[0.115,0.070],[0.125,0.050],
  [0.140,0.170],[0.135,0.150],[0.145,0.130],[0.140,0.110],[0.135,0.090],[0.145,0.075],
  [0.160,0.180],[0.155,0.160],[0.165,0.140],[0.160,0.120],[0.180,0.195],[0.175,0.175],[0.185,0.160],
  [0.200,0.205],[0.195,0.190],[0.220,0.225],[0.215,0.210]
];

// ---- layout / style ----
const FONT = '"Liberation Sans", Arial, Helvetica, sans-serif';
const RED = '#e5141c', BLUE = '#2ba3dd', FRAME = '#5a5a5a', TEXT = '#2b2b2b';
Chart.defaults.font.family = FONT;
Chart.defaults.font.size = 15;
Chart.defaults.color = TEXT;

const PAD_TOP = 12, PAD_RIGHT = 25, X_H = 50;

const panels = [
  {id: 'a', box: [93, 32, 382, 263], yw: 83, ypad: 2, min: -160.16, max: -160.01, ticks: ticksA,
   xt: 'DFT energy (eV/atom)', yt: 'NEP energy (eV/atom)', note: 'with substitution', train: trainA, test: testA},
  {id: 'b', box: [455, 32, 741, 263], yw: 47, ypad: 7, min: -7, max: 6, ticks: ticksB,
   xt: 'DFT force (eV/Å)', yt: 'NEP force (eV/Å)', note: 'with substitution', train: trainB, test: testB},
  {id: 'c', box: [814, 32, 1101, 263], yw: 58, ypad: 7, min: -0.6, max: 0.3, ticks: ticksC,
   xt: 'DFT virial (eV/atom)', yt: 'NEP virial (eV/atom)', note: 'with substitution', train: trainC, test: testC},
  {id: 'd', box: [93, 342, 382, 571], yw: 83, ypad: 2, min: -158.89, max: -158.74, ticks: ticksD,
   xt: 'DFT energy (eV/atom)', yt: 'NEP energy (eV/atom)', note: 'without substitution', train: trainD, test: testD},
  {id: 'e', box: [456, 342, 741, 572], yw: 48, ypad: 7, min: -8, max: 6, ticks: ticksE,
   xt: 'DFT force (eV/Å)', yt: 'NEP force (eV/Å)', note: 'without substitution', train: trainE, test: testE},
  {id: 'f', box: [815, 341, 1101, 572], yw: 59, ypad: 7, min: -0.6, max: 0.3, ticks: ticksF,
   xt: 'DFT virial (eV/atom)', yt: 'NEP virial (eV/atom)', note: 'without substitution', train: trainF, test: testF}
];

// frame, minor ticks, inset legend and note
const decor = {
  id: 'decor',
  afterDraw(chart, args, opts) {
    const {ctx, chartArea: ca} = chart;
    ctx.save();
    ctx.strokeStyle = FRAME;
    ctx.lineWidth = 1.2;
    ctx.strokeRect(ca.left, ca.top, ca.right - ca.left, ca.bottom - ca.top);

    ['x', 'y'].forEach(k => {
      const s = chart.scales[k];
      const vals = s.ticks.map(t => t.value);
      const step = vals[1] - vals[0];
      ctx.beginPath();
      for (let v = vals[0] - step / 2; v <= s.max + 1e-9; v += step) {
        if (v < s.min - 1e-9) continue;
        const p = s.getPixelForValue(v);
        if (k === 'x') { ctx.moveTo(p, ca.bottom); ctx.lineTo(p, ca.bottom + 3); }
        else { ctx.moveTo(ca.left - 3, p); ctx.lineTo(ca.left, p); }
      }
      ctx.stroke();
    });

    ctx.font = '15px ' + FONT;
    ctx.textBaseline = 'middle';
    chart.data.datasets.slice(0, 2).forEach((ds, i) => {
      const y = ca.top + 19.5 + i * 20;
      ctx.beginPath();
      ctx.arc(ca.left + 17.5, y, 2.9, 0, Math.PI * 2);
      ctx.fillStyle = ds.backgroundColor;
      ctx.fill();
      ctx.fillStyle = TEXT;
      ctx.textAlign = 'left';
      ctx.fillText(ds.label, ca.left + 32, y);
    });

    ctx.textAlign = 'right';
    ctx.fillText(opts.note, ca.right - 13, ca.bottom - 17);
    ctx.restore();
  }
};

panels.forEach((p, idx) => {
  const [l, t, r, b] = p.box;
  const wrap = document.getElementById('p' + p.id);
  wrap.style.left = (l - p.yw) + 'px';
  wrap.style.top = (t - PAD_TOP) + 'px';
  wrap.style.width = (r - l + p.yw + PAD_RIGHT) + 'px';
  wrap.style.height = (b - t + PAD_TOP + X_H) + 'px';

  const tickVals = p.ticks.map(Number);
  const axis = (title, isX) => ({
    type: 'linear',
    min: p.min,
    max: p.max,
    afterBuildTicks: s => { s.ticks = tickVals.map(v => ({value: v})); },
    afterFit: s => { if (isX) s.height = X_H; else s.width = p.yw; },
    ticks: {
      autoSkip: false, maxRotation: 0, color: TEXT,
      padding: isX ? 4 : p.ypad,
      font: {size: 15},
      callback: (v, i) => p.ticks[i]
    },
    grid: {drawOnChartArea: false, drawTicks: true, tickLength: 5, color: FRAME, lineWidth: 1.2},
    border: {color: FRAME, width: 1.2},
    title: {display: true, text: title, color: TEXT, font: {size: 15},
            padding: isX ? {top: 0, bottom: 5} : {top: 0, bottom: 0}}
  });

  new Chart(document.getElementById('c' + p.id), {
    type: 'scatter',
    data: {
      datasets: [
        {label: trainLabels[idx], data: p.train.map(d => ({x: d[0], y: d[1]})),
         backgroundColor: RED, borderWidth: 0, pointRadius: 3.3, order: 2},
        {label: testLabels[idx], data: p.test.map(d => ({x: d[0], y: d[1]})),
         backgroundColor: BLUE, borderWidth: 0, pointRadius: 3.3, order: 1},
        {type: 'line', label: 'y = x', data: [{x: p.min, y: p.min}, {x: p.max, y: p.max}],
         borderColor: '#d2d2d2', borderWidth: 1.3, pointRadius: 0, order: 0}
      ]
    },
    options: {
      responsive: true,
      maintainAspectRatio: false,
      animation: false,
      layout: {padding: {top: PAD_TOP, right: PAD_RIGHT, left: 0, bottom: 0}},
      scales: {x: axis(p.xt, true), y: axis(p.yt, false)},
      plugins: {legend: {display: false}, tooltip: {enabled: false}, decor: {note: p.note}}
    },
    plugins: [decor]
  });
});
</script>
</body>
</html>
